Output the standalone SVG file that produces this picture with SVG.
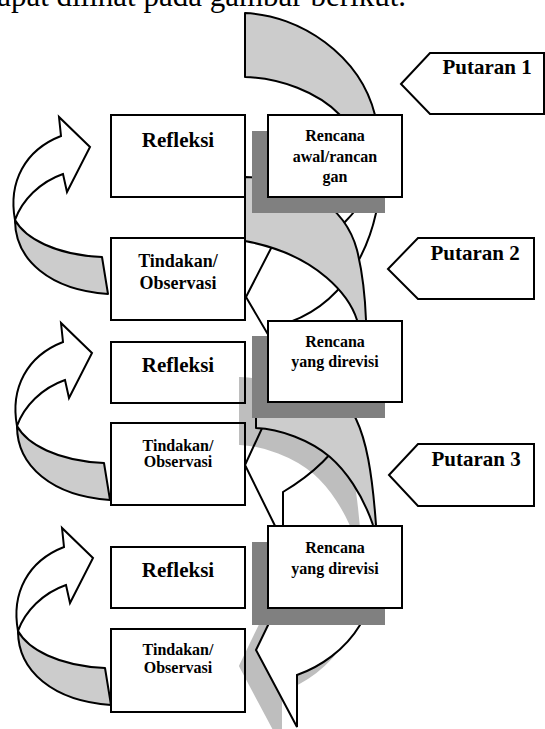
<svg xmlns="http://www.w3.org/2000/svg" width="545" height="729" viewBox="0 0 545 729">
<style>
  .box { fill:#fff; stroke:#000; stroke-width:2; }
  .drop { fill:#808080; }
  .back { fill:#ccc; stroke:#000; stroke-width:2; stroke-linejoin:round; }
  .front { fill:#fff; stroke:#000; stroke-width:2; stroke-linejoin:miter; }
  .tag { fill:#fff; stroke:#000; stroke-width:2; }
  text { font-family:"Liberation Serif","Times New Roman",serif; fill:#000; }
  .t { font-weight:bold; text-anchor:middle; }
</style>
<defs>
  <!-- curved return arrow on the left: shaded back strip + white front strip with head -->
  <g id="loop">
    <path class="back" d="M15,220 C25,238 55,255 102,257 L108,294 C50,290 15,260 15,220 Z"/>
    <path class="front" d="M61,136 L59,117 L90,147 L67,192 L63,174 C40,182 22,200 15,220 C8,182 25,150 61,136 Z"/>
  </g>
</defs>

<text x="406" y="6" font-size="31" text-anchor="end">dapat dilihat pada gambar berikut.</text>

<g id="refleksi-1">
  <rect class="box" x="111" y="115" width="134" height="82"/>
  <text class="t" x="178" y="147" font-size="21">Refleksi</text>
</g>
<g id="tindakan-1">
  <rect class="box" x="111" y="238" width="134" height="82"/>
  <text class="t" x="178" y="267" font-size="18">Tindakan/</text>
  <text class="t" x="178" y="289" font-size="18">Observasi</text>
</g>
<g id="refleksi-2">
  <rect class="box" x="111" y="342" width="134" height="61"/>
  <text class="t" x="178" y="372" font-size="21">Refleksi</text>
</g>
<g id="tindakan-2">
  <rect class="box" x="111" y="423" width="134" height="82"/>
  <text class="t" x="178" y="451" font-size="16">Tindakan/</text>
  <text class="t" x="178" y="467" font-size="16">Observasi</text>
</g>
<g id="refleksi-3">
  <rect class="box" x="111" y="547" width="134" height="61"/>
  <text class="t" x="178" y="577" font-size="21">Refleksi</text>
</g>
<g id="tindakan-3">
  <rect class="box" x="111" y="629" width="134" height="83"/>
  <text class="t" x="178" y="655" font-size="16">Tindakan/</text>
  <text class="t" x="178" y="673" font-size="16">Observasi</text>
</g>

<g id="connectors">
  <use href="#loop"/>
  <use href="#loop" transform="translate(2,206)"/>
  <use href="#loop" transform="translate(3,411)"/>

  <!-- cycle 1 -->
  <path class="back" d="M245,13 C300,15 360,55 375,115 C379,135 381,150 381,165 C372,145 358,128 340,115 C318,92 280,78 245,77 Z"/>
  <path class="front" d="M381,165 C381,235 350,300 290,322 L290,372 L246,297 L283,225 L297,257 C330,240 365,210 381,165 Z"/>

  <!-- cycle 2 -->
  <path class="back" d="M245,177 C300,178 345,205 357,250 C362,270 365,295 366,320 L366,335 L357,320 C350,298 320,255 245,241 Z"/>
  <path class="front" d="M366,335 C368,410 345,455 283,492 L283,542 L245,465 L276,398 L300,428 C335,410 360,380 366,335 Z"/>

  <!-- cycle 3, with its soft drop shadow -->
  <g opacity="0.25" transform="translate(-16,16)">
    <path fill="#000" stroke="#000" stroke-width="2" d="M256,362 C300,364 340,385 356,419 C366,440 372,470 376,525 L377,535 L373,525 C362,493 345,470 330,457 C310,440 280,429 256,428 Z"/>
    <path fill="#000" stroke="#000" stroke-width="2" d="M377,535 C378,570 372,605 360,625 C345,650 320,667 297,675 L297,727 L256,650 L285,590 L312,600 C340,590 370,570 377,535 Z"/>
  </g>
  <path class="back" d="M256,362 C300,364 340,385 356,419 C366,440 372,470 376,525 L377,535 L373,525 C362,493 345,470 330,457 C310,440 280,429 256,428 Z"/>
  <path class="front" d="M377,535 C378,570 372,605 360,625 C345,650 320,667 297,675 L297,727 L256,650 L285,590 L312,600 C340,590 370,570 377,535 Z"/>
</g>

<g id="rencana-1">
  <rect class="drop" x="252" y="131" width="133" height="82"/>
  <rect class="box" x="268" y="115" width="134" height="82"/>
  <text class="t" x="335" y="141" font-size="16">Rencana</text>
  <text class="t" x="335" y="162" font-size="16">awal/rancan</text>
  <text class="t" x="335" y="182" font-size="16">gan</text>
</g>
<g id="rencana-2">
  <rect class="drop" x="252" y="336" width="133" height="82"/>
  <rect class="box" x="268" y="321" width="134" height="81"/>
  <text class="t" x="335" y="347" font-size="16">Rencana</text>
  <text class="t" x="335" y="367" font-size="16">yang direvisi</text>
</g>
<g id="rencana-3">
  <rect class="drop" x="252" y="542" width="133" height="83"/>
  <rect class="box" x="268" y="526" width="134" height="82"/>
  <text class="t" x="335" y="553" font-size="16">Rencana</text>
  <text class="t" x="335" y="574" font-size="16">yang direvisi</text>
</g>

<g id="putaran-1">
  <path class="tag" d="M401,84 L430,53 L544,53 L544,114 L430,114 Z"/>
  <text class="t" x="487" y="74" font-size="21">Putaran 1</text>
</g>
<g id="putaran-2">
  <path class="tag" d="M388,269 L418,238 L534,238 L534,299 L418,299 Z"/>
  <text class="t" x="475" y="260" font-size="21">Putaran 2</text>
</g>
<g id="putaran-3">
  <path class="tag" d="M389,475 L418,444 L534,444 L534,506 L418,506 Z"/>
  <text class="t" x="476" y="466" font-size="21">Putaran 3</text>
</g>
</svg>
